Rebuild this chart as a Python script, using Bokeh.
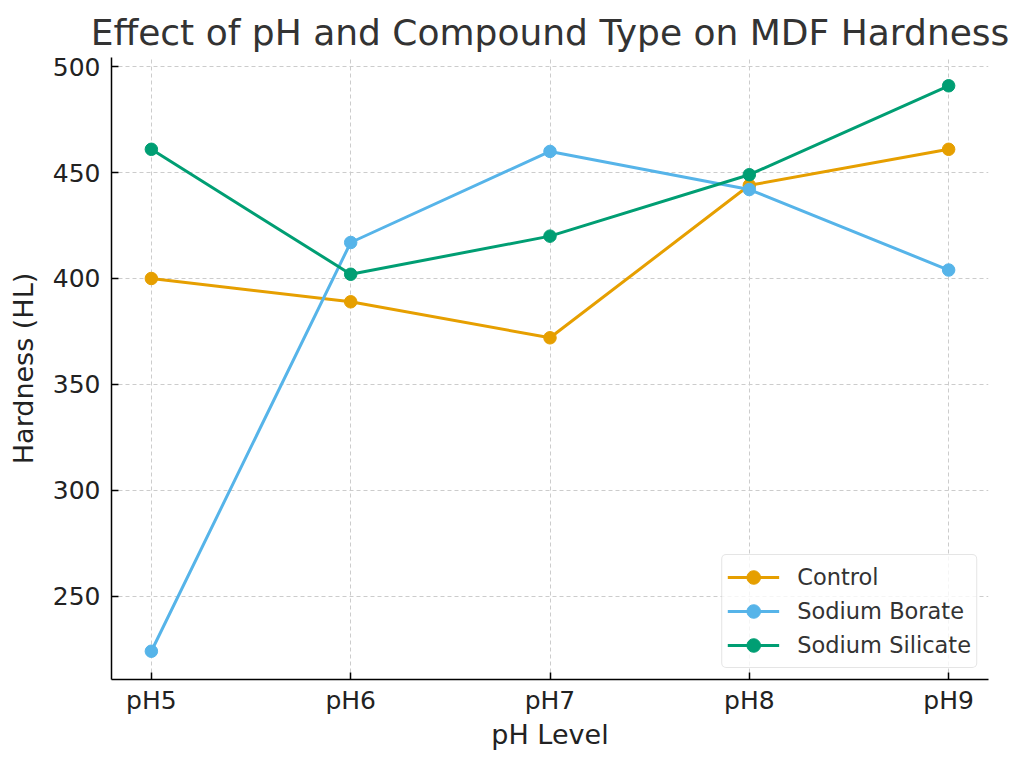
from bokeh.plotting import figure
from bokeh.models import FactorRange, Range1d, FixedTicker, Legend, LegendItem
from bokeh.embed import file_html
from bokeh.resources import INLINE

categories = ["pH5", "pH6", "pH7", "pH8", "pH9"]
control = [400, 389, 372, 444, 461]
sodium_borate = [224, 417, 460, 442, 404]
sodium_silicate = [461, 402, 420, 449, 491]
y_ticks = [250, 300, 350, 400, 450, 500]

series = [
    ("Control", control, "#E69F00"),
    ("Sodium Borate", sodium_borate, "#56B4E9"),
    ("Sodium Silicate", sodium_silicate, "#009E73"),
]

FONT = "DejaVu Sans"

p = figure(
    width=1016, height=760,
    x_range=FactorRange(factors=categories, range_padding=-0.3, range_padding_units="absolute"),
    y_range=Range1d(210.65, 504.35),
    output_backend="svg", toolbar_location=None,
    min_border_left=111, min_border_right=28, min_border_top=57, min_border_bottom=81,
    title="Effect of pH and Compound Type on MDF Hardness",
)

p.title.text_font = FONT
p.title.text_font_size = "36px"
p.title.text_font_style = "normal"
p.title.text_color = "#333333"
p.title.align = "center"

p.outline_line_color = None
p.background_fill_color = "white"
p.border_fill_color = "white"

items = []
for name, vals, color in series:
    r1 = p.line(categories, vals, line_color=color, line_width=3)
    r2 = p.scatter(categories, vals, size=12.5, fill_color=color, line_color=color)
    items.append(LegendItem(label=name, renderers=[r1, r2]))

legend = Legend(items=items, location="bottom_right")
legend.margin = 11
legend.padding = 5
legend.spacing = 0
legend.glyph_width = 52
legend.glyph_height = 34
legend.label_height = 34
legend.label_standoff = 18
legend.label_text_font = FONT
legend.label_text_font_size = "22.5px"
legend.label_text_color = "#333333"
legend.border_line_color = "#cccccc"
legend.border_line_width = 1.5
legend.border_radius = 5
legend.background_fill_alpha = 0.8
p.add_layout(legend, "center")

for ax in (p.xaxis[0], p.yaxis[0]):
    ax.axis_line_color = "black"
    ax.axis_line_width = 1.5
    ax.major_tick_line_color = "black"
    ax.major_tick_line_width = 1.5
    ax.major_tick_out = 0
    ax.major_tick_in = 7
    ax.minor_tick_line_color = None
    ax.major_label_text_font = FONT
    ax.major_label_text_font_size = "25px"
    ax.major_label_text_color = "#222222"
    ax.axis_label_text_font = FONT
    ax.axis_label_text_font_size = "27px"
    ax.axis_label_text_font_style = "normal"
    ax.axis_label_text_color = "#222222"

p.yaxis[0].ticker = FixedTicker(ticks=y_ticks)
p.xaxis[0].axis_label = "pH Level"
p.yaxis[0].axis_label = "Hardness (HL)"
p.xaxis[0].major_label_standoff = 6
p.yaxis[0].major_label_standoff = 11
p.xaxis[0].axis_label_standoff = 1
p.yaxis[0].axis_label_standoff = 11

p.xgrid.grid_line_color = "#cccccc"
p.ygrid.grid_line_color = "#cccccc"
p.xgrid.grid_line_dash = "4 3"
p.ygrid.grid_line_dash = "4 3"
p.xgrid.grid_line_width = 1
p.ygrid.grid_line_width = 1

open("out.html", "w").write(file_html(p, INLINE))
